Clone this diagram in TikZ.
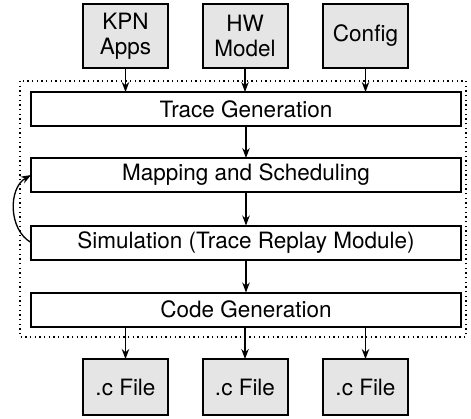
\documentclass[tikz,border=0pt]{standalone}
\usepackage{fontspec}
\setmainfont{TeX Gyre Heros}
\usetikzlibrary{arrows.meta}
\begin{document}
\begin{tikzpicture}[x=0.6pt,y=-0.6pt,inner sep=0pt,outer sep=0pt,thick,>={Stealth[length=6pt,width=4.5pt]},
font=\fontsize{13.5}{15}\selectfont,
ioblock/.style={draw,rectangle,fill=black!10,align=center,minimum width=51pt,very thick},
stage/.style={draw,rectangle,minimum width=258pt,minimum height=20.4pt,very thick}]
\useasboundingbox (0,0) rectangle (471,418);
% inputs
\draw (125.5,36) node[ioblock,minimum height=38.4pt] (kpn) {KPN\\Apps};
\draw (245,36) node[ioblock,minimum height=38.4pt] (hw) {HW\\Model};
\draw (365.5,36) node[ioblock,minimum height=38.4pt] (cfg) {Config};
% tool flow
\draw[dotted] (20,81) rectangle (466,337);
\draw (246,109) node[stage] (trace) {Trace Generation};
\draw (246,175) node[stage] (map) {Mapping and Scheduling};
\draw (246,242.5) node[stage] (sim) {Simulation (Trace Replay Module)};
\draw (246,309.5) node[stage] (code) {Code Generation};
% outputs
\draw (125.5,387) node[ioblock,minimum height=33.6pt] (c1) {.c File};
\draw (245,387) node[ioblock,minimum height=33.6pt] (c2) {.c File};
\draw (365.5,387) node[ioblock,minimum height=33.6pt] (c3) {.c File};
\draw[->] (kpn) -- (kpn |- trace.north);
\draw[->] (hw) -- (hw |- trace.north);
\draw[->] (cfg) -- (cfg |- trace.north);
\draw[->] (trace) -- (map);
\draw[->] (map) -- (sim);
\draw[->] (sim) -- (code);
\draw[->] (sim.west) to[bend left=60] (map.west);
\draw[->] (c1 |- code.south) -- (c1);
\draw[->] (c2 |- code.south) -- (c2);
\draw[->] (c3 |- code.south) -- (c3);
\end{tikzpicture}
\end{document}
